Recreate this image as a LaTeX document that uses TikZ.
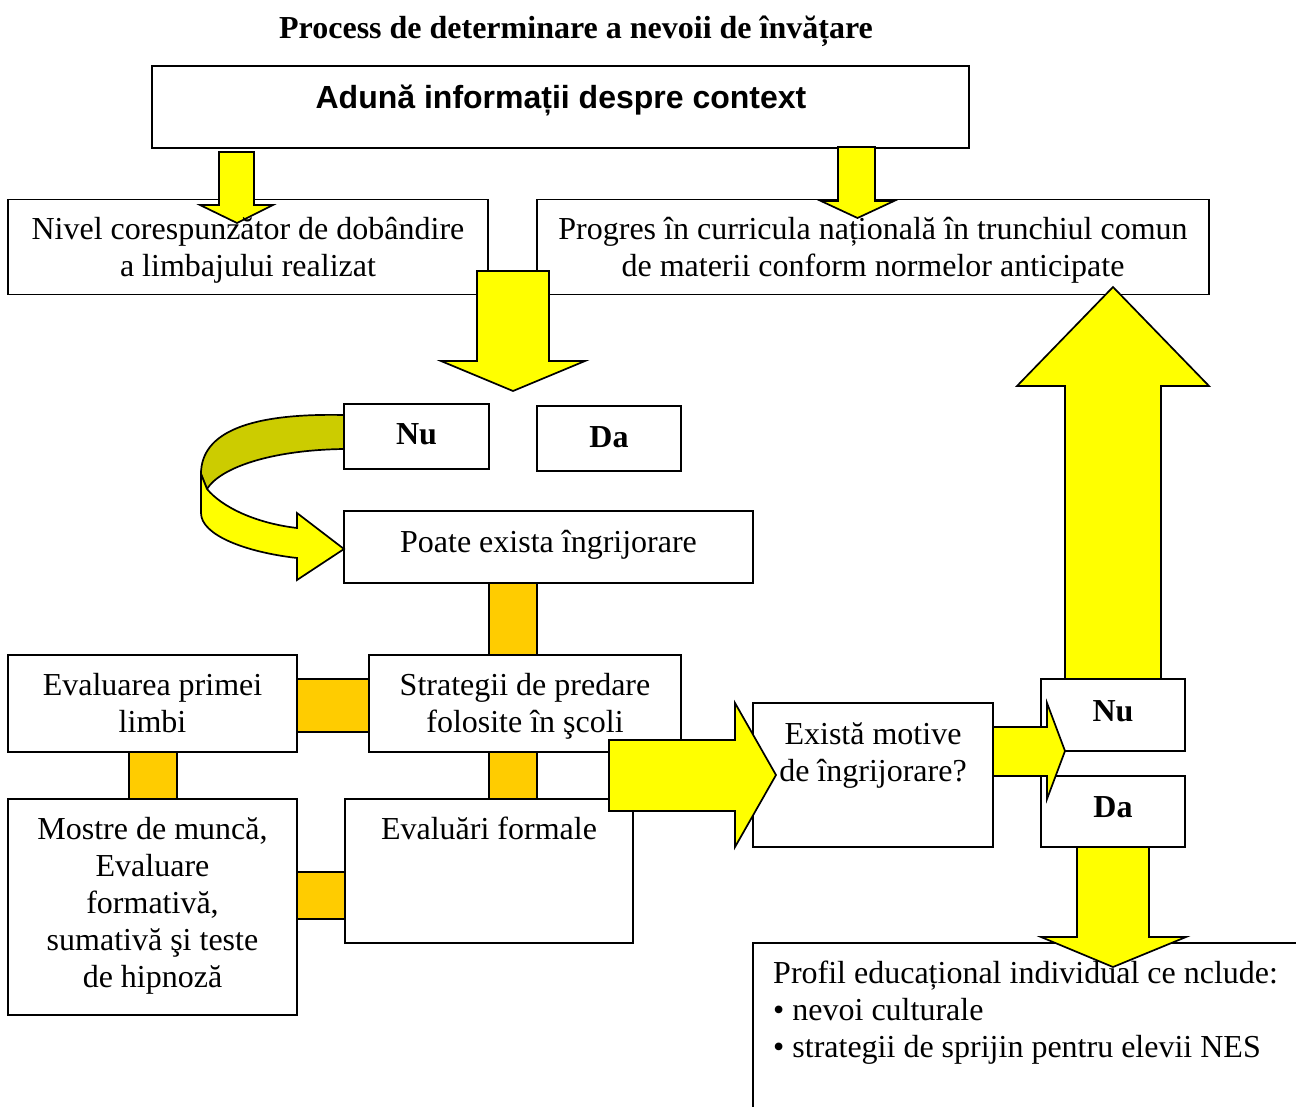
\documentclass[tikz,border=0pt]{standalone}
\usepackage{fontspec}
\setmainfont{Liberation Serif}
\newfontfamily\sansA{Liberation Sans}
\definecolor{yel}{RGB}{255,255,0}
\definecolor{org}{RGB}{255,204,0}
\definecolor{olv}{RGB}{204,204,0}
\begin{document}
\begin{tikzpicture}[x=1pt,y=-1pt,
  box/.style={draw, line width=1.8pt, fill=white, inner sep=0pt},
  yarrow/.style={draw, line width=1.7pt, fill=yel, line join=miter},
  olvarrow/.style={draw, line width=1.7pt, fill=olv, line join=miter},
  conn/.style={draw, line width=1.7pt, fill=org},
  txt/.style={font=\fontsize{32}{37}\selectfont, anchor=base, align=center, inner sep=0pt},
  btxt/.style={txt, font=\fontsize{32}{37}\selectfont\bfseries},
  stxt/.style={txt, font=\sansA\fontsize{32}{37}\selectfont\bfseries}]
\useasboundingbox (0,0) rectangle (1296,1106);
\clip (0,0) rectangle (1296,1106);
\fill[white] (0,0) rectangle (1296,1106);

% boxes
\node[box, minimum width=817pt, minimum height=82pt] (top) at (560.5,107) {};
\node[box, minimum width=480pt, minimum height=95pt] (boxA) at (248,247) {};
\node[box, minimum width=672pt, minimum height=95pt] (boxB) at (873,247) {};
\node[box, minimum width=145pt, minimum height=65pt] (nu1) at (416.5,436.5) {};
\node[box, minimum width=144pt, minimum height=65pt] (da1) at (609,438.5) {};
\node[box, minimum width=409pt, minimum height=72pt] (poate) at (548.5,547) {};
\node[box, minimum width=289pt, minimum height=97pt] (evalp) at (152.5,703.5) {};
\node[box, minimum width=312pt, minimum height=97pt] (strat) at (525,703.5) {};
\node[box, minimum width=289pt, minimum height=216pt] (mostre) at (152.5,907) {};
\node[box, minimum width=288pt, minimum height=144pt] (evalf) at (489,871) {};
\node[box, minimum width=240pt, minimum height=144pt] (exista) at (873,775) {};
\node[box, minimum width=144pt, minimum height=72pt] (nu2) at (1113,715) {};
\node[box, minimum width=144pt, minimum height=71pt] (da2) at (1113,811.5) {};
\node[box, minimum width=567pt, minimum height=187pt] (profil) at (1036.5,1036.5) {};

% orange connectors
\draw[conn] (489,583) rectangle (537,655);
\draw[conn] (297,679) rectangle (369,732);
\draw[conn] (129,752) rectangle (177,799);
\draw[conn] (489,752) rectangle (537,799);
\draw[conn] (297,872) rectangle (345,919);

% yellow block arrows
\draw[yarrow] (219,152) -- (254,152) -- (254,205) -- (273,205) -- (237,223) -- (200,205) -- (219,205) -- cycle;
\draw[yarrow] (838,147) -- (875,147) -- (875,201) -- (894,201) -- (857.5,218) -- (821,201) -- (838,201) -- cycle;
\draw[yarrow] (477,271) -- (549,271) -- (549,361) -- (585,361) -- (513,391) -- (441,361) -- (477,361) -- cycle;
\draw[yarrow] (609,740) -- (735,740) -- (735,703) -- (776,775) -- (735,847) -- (735,811) -- (609,811) -- cycle;
\draw[yarrow] (993,727) -- (1047,727) -- (1047,703) -- (1065,751) -- (1047,799) -- (1047,776) -- (993,776) -- cycle;
\draw[yarrow] (1065,679) -- (1065,386) -- (1017,386) -- (1113,287) -- (1209,386) -- (1161,386) -- (1161,679) -- cycle;
\draw[yarrow] (1077,847) -- (1149,847) -- (1149,937) -- (1186,937) -- (1113,967) -- (1041,937) -- (1077,937) -- cycle;

% curved arrow from Nu to Poate
\draw[olvarrow] (344,415) .. controls (250,413) and (201,432) .. (201,474) -- (207,489) .. controls (220,468) and (270,450) .. (344,449) -- cycle;
\draw[yarrow] (201,474) -- (207,489) .. controls (222,507) and (255,523) .. (297,528) -- (297,513) -- (344,549) -- (297,580) -- (297,558) .. controls (245,552) and (201,535) .. (201,513) -- cycle;

% texts (base anchor = baseline of the last line)
\node[btxt] (title) at (576,38) {Process de determinare a nevoii de învățare};
\node[stxt] (tTop) at (561,108) {Adună informații despre context};
\node[txt] (tA) at (248,276) {Nivel corespunzător de dobândire\\a limbajului realizat};
\node[txt] (tB) at (873,276) {Progres în curricula națională în trunchiul comun\\de materii conform normelor anticipate};
\node[btxt] (tNu1) at (416.5,444) {Nu};
\node[btxt] (tDa1) at (609,447) {Da};
\node[txt] (tPoate) at (548.5,552) {Poate exista îngrijorare};
\node[txt] (tEvalp) at (152.5,732) {Evaluarea primei\\limbi};
\node[txt] (tStrat) at (525,732) {Strategii de predare\\folosite în şcoli};
\node[txt] (tMostre) at (152.5,987) {Mostre de muncă,\\Evaluare\\formativă,\\sumativă şi teste\\de hipnoză};
\node[txt] (tEvalf) at (489,839) {Evaluări formale};
\node[txt] (tExista) at (873,781) {Există motive\\de îngrijorare?};
\node[btxt] (tNu2) at (1113,721) {Nu};
\node[btxt] (tDa2) at (1113,817) {Da};
\node[txt, anchor=base west, align=left] (tProfil) at (773,1057) {Profil educațional individual ce nclude:\\• nevoi culturale\\• strategii de sprijin pentru elevii NES};
\end{tikzpicture}
\end{document}
